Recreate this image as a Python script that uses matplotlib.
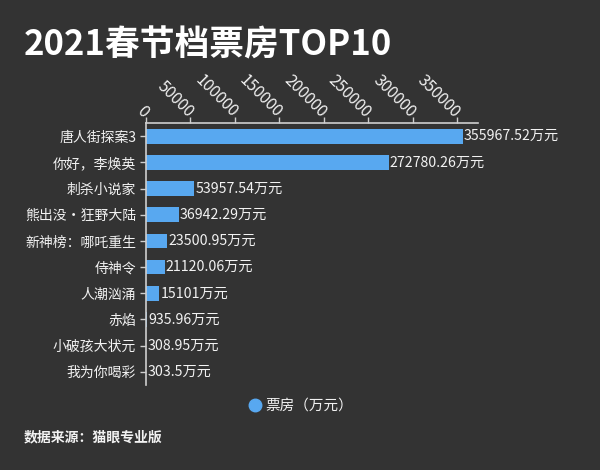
import matplotlib
matplotlib.use('Agg')
import matplotlib.pyplot as plt
from matplotlib.lines import Line2D

plt.rcParams['font.family'] = ['Noto Sans CJK SC', 'DejaVu Sans']

# %%
""" Data """
movies = ['唐人街探案3', '你好，李焕英', '刺杀小说家', '熊出没•狂野大陆', '新神榜：哪吒重生',
          '侍神令', '人潮汹涌', '赤焰', '小破孩大状元', '我为你喝彩']
box_office = [355967.52, 272780.26, 53957.54, 36942.29, 23500.95,
              21120.06, 15101, 935.96, 308.95, 303.5]
value_text = ['355967.52', '272780.26', '53957.54', '36942.29', '23500.95',
              '21120.06', '15101', '935.96', '308.95', '303.5']
x_ticks = [0, 50000, 100000, 150000, 200000, 250000, 300000, 350000]

bg = '#333333'
bar_color = '#58a8f0'
text_color = '#f2f2f2'
axis_color = '#cfcfcf'

# %%
""" Plotting """
fig = plt.figure(figsize=(6, 4.7), dpi=100, facecolor=bg)
ax = fig.add_axes([0.243, 0.181, 0.554, 0.557], facecolor=bg)

ypos = list(range(len(movies)))
ax.barh(ypos, box_office, height=0.56, color=bar_color, zorder=2)
for y, v, t in zip(ypos, box_office, value_text):
    ax.text(v + 1500, y, t + '万元', color=text_color, fontsize=10.2,
            va='center', ha='left')

ax.set_ylim(len(movies) - 0.5, -0.5)
ax.set_xlim(0, 373500)
ax.set_yticks(ypos)
ax.set_yticklabels(movies, fontsize=10, color=text_color)
ax.set_xticks(x_ticks)
ax.set_xticklabels([str(t) for t in x_ticks], fontsize=11.5, color=text_color,
                   rotation=-45, ha='right', va='center', rotation_mode='anchor')

ax.xaxis.tick_top()
ax.tick_params(axis='x', direction='out', length=4, width=1, color=axis_color, pad=2)
ax.tick_params(axis='y', direction='out', length=4, width=1, color=axis_color, pad=3)

for s in ['right', 'bottom']:
    ax.spines[s].set_visible(False)
for s in ['top', 'left']:
    ax.spines[s].set_color(axis_color)
    ax.spines[s].set_linewidth(1.2)

handle = Line2D([], [], marker='o', linestyle='none', markersize=9,
                markerfacecolor=bar_color, markeredgecolor=bar_color)
fig.legend([handle], ['票房（万元）'], loc='center', bbox_to_anchor=(0.5, 0.136),
           frameon=False, fontsize=10.5, labelcolor=text_color,
           handletextpad=0.2, handlelength=1.0)

fig.text(0.04, 0.905, '2021春节档票房TOP10', color='white', fontsize=25,
         fontweight='bold', va='center', ha='left')
fig.text(0.04, 0.07, '数据来源：猫眼专业版', color=text_color, fontsize=10,
         fontweight='bold', va='center', ha='left')

fig.savefig('out.png', dpi=100, facecolor=bg)
